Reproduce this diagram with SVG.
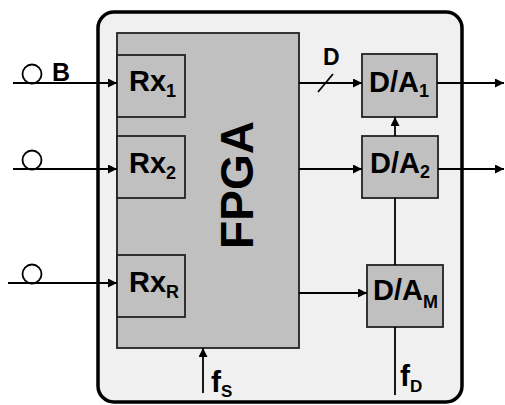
<svg xmlns="http://www.w3.org/2000/svg" width="505" height="405" viewBox="0 0 505 405">
<defs>
<marker id="ah" markerUnits="userSpaceOnUse" markerWidth="10" markerHeight="10" refX="9" refY="4.5" orient="auto">
<path d="M0,0 L9,4.5 L0,9 z" fill="#000"/>
</marker>
<style>
.blk{fill:#c0c0c0;stroke:#222;stroke-width:1.8}
.ln{stroke:#000;stroke-width:1.8;fill:none}
.ar{stroke:#000;stroke-width:1.8;fill:none;marker-end:url(#ah)}
.t{font-family:"Liberation Sans",Arial,sans-serif;font-weight:bold;fill:#000}
.big{font-size:29px}
.sub{font-size:18px}
.fs{font-size:17px}
</style>
</defs>
<rect width="505" height="405" fill="#fff"/>
<g id="enclosure">
<rect x="98" y="12" width="364" height="390" rx="16" fill="#f0f0f0" stroke="#000" stroke-width="3.5"/>
</g>
<g id="fpga">
<rect x="117" y="33" width="182" height="315" class="blk" stroke-width="1.5"/>
<text class="t" font-size="46" text-anchor="middle" transform="translate(253,185) rotate(-90)">FPGA</text>
</g>
<g id="rx1">
<rect x="117" y="55" width="68" height="62" class="blk" stroke-width="1.5"/>
<text class="t big" x="129" y="91">Rx<tspan class="sub" dy="6">1</tspan></text>
</g>
<g id="rx2">
<rect x="117" y="136" width="68" height="62" class="blk" stroke-width="1.5"/>
<text class="t big" x="129" y="173">Rx<tspan class="sub" dy="6">2</tspan></text>
</g>
<g id="rxR">
<rect x="117" y="255" width="68" height="62" class="blk" stroke-width="1.5"/>
<text class="t big" x="129" y="292">Rx<tspan class="sub" dy="6">R</tspan></text>
</g>
<g id="da1">
<rect x="362" y="54" width="75" height="63" class="blk"/>
<text class="t big" x="369" y="92">D/A<tspan class="sub" dy="5">1</tspan></text>
</g>
<g id="da2">
<rect x="362" y="136" width="76" height="62" class="blk"/>
<text class="t big" x="370" y="173">D/A<tspan class="sub" dy="5">2</tspan></text>
</g>
<g id="daM">
<rect x="367" y="265" width="76" height="62" class="blk"/>
<text class="t big" x="373" y="300">D/A<tspan class="sub" dy="8">M</tspan></text>
</g>
<g id="inputs">
<circle cx="32" cy="74" r="9.5" fill="#fff" stroke="#000" stroke-width="1.8"/>
<circle cx="32" cy="160" r="9.5" fill="#fff" stroke="#000" stroke-width="1.8"/>
<circle cx="32" cy="274" r="9.5" fill="#fff" stroke="#000" stroke-width="1.8"/>
<text class="t" font-size="25" x="52" y="81">B</text>
</g>
<g id="connectors">
<line class="ar" x1="13" y1="83" x2="117" y2="83"/>
<line class="ar" x1="13" y1="169" x2="117" y2="169"/>
<line class="ar" x1="8" y1="283" x2="117" y2="283"/>
<line class="ar" x1="299" y1="83" x2="362" y2="83"/>
<line class="ln" x1="318" y1="92" x2="333" y2="74"/>
<line class="ar" x1="299" y1="169" x2="362" y2="169"/>
<line class="ar" x1="299" y1="293" x2="367" y2="293"/>
<line class="ar" x1="437" y1="83" x2="504" y2="83"/>
<line class="ar" x1="438" y1="169" x2="504" y2="169"/>
<line class="ln" x1="395" y1="395" x2="395" y2="327"/>
<line class="ln" x1="395" y1="265" x2="395" y2="198"/>
<line class="ar" x1="395" y1="136" x2="395" y2="117"/>
<line class="ar" x1="203" y1="393" x2="203" y2="348"/>
</g>
<g id="labels">
<text class="t" font-size="23" x="323" y="65">D</text>
<text class="t" font-size="30" x="211" y="392">f<tspan class="fs" dy="5">S</tspan></text>
<text class="t" font-size="30" x="400" y="386">f<tspan class="fs" dy="6">D</tspan></text>
</g>
</svg>
